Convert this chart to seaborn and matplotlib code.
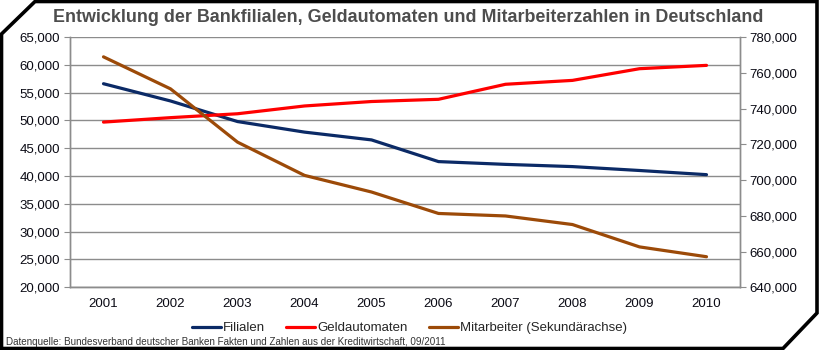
import pandas as pd
import matplotlib
matplotlib.use("Agg")
import matplotlib.pyplot as plt
from matplotlib.patches import Polygon
from matplotlib.ticker import FuncFormatter, FixedLocator
import seaborn as sns

# data
years = ["2001", "2002", "2003", "2004", "2005", "2006", "2007", "2008", "2009", "2010"]
filialen = [56600, 53500, 49800, 47900, 46500, 42600, 42100, 41700, 41000, 40250]
geldautomaten = [49700, 50500, 51200, 52600, 53400, 53800, 56500, 57200, 59300, 59900]
mitarbeiter = [768900, 751000, 721200, 702600, 693300, 681300, 679900, 675100, 662600, 657100]

df = pd.DataFrame({"pos": range(len(years)), "Filialen": filialen,
                   "Geldautomaten": geldautomaten, "Mitarbeiter": mitarbeiter})

sns.set_style("white")
plt.rcParams['font.family'] = ['Liberation Sans', 'DejaVu Sans']

fig = plt.figure(figsize=(8.19, 3.5), dpi=100)
fig.patch.set_facecolor("white")
ax = fig.add_axes([70 / 819, 1 - 287.3 / 350, 670 / 819, 250.3 / 350])
ax2 = ax.twinx()

navy, red, brown = "#0b2a66", "#ff0000", "#9c4a08"
grid_col = "#8c8c8c"

sns.lineplot(data=df, x="pos", y="Filialen", ax=ax, color=navy, linewidth=2.3, label="Filialen", legend=False)
sns.lineplot(data=df, x="pos", y="Geldautomaten", ax=ax, color=red, linewidth=2.3, label="Geldautomaten", legend=False)
sns.lineplot(data=df, x="pos", y="Mitarbeiter", ax=ax2, color=brown, linewidth=2.3,
             label="Mitarbeiter (Sekundärachse)", legend=False)

ax.set_xlim(-0.5, len(years) - 0.5)
ax.set_ylim(20000, 65000)
ax2.set_ylim(640000, 780000)
ax.set_yticks(range(20000, 65001, 5000))
ax2.set_yticks(range(640000, 780001, 20000))
fmt = FuncFormatter(lambda v, p: f"{int(v):,}")
ax.yaxis.set_major_formatter(fmt)
ax2.yaxis.set_major_formatter(fmt)

# ticks between categories, labels at centres
ax.xaxis.set_major_locator(FixedLocator([i - 0.5 for i in range(len(years) + 1)]))
ax.xaxis.set_minor_locator(FixedLocator(range(len(years))))
ax.set_xticklabels([""] * (len(years) + 1))
ax.set_xticklabels(years, minor=True)
ax.tick_params(axis="x", which="major", length=4, color=grid_col, direction="out")
ax.tick_params(axis="x", which="minor", length=0, pad=8, labelsize=9.5, labelcolor="#0a0a14")
ax.tick_params(axis="y", length=4, color=grid_col, direction="out", labelsize=9.5, pad=3, labelcolor="#0a0a14")
ax2.tick_params(axis="y", length=4, color=grid_col, direction="out", labelsize=9.5, pad=3, labelcolor="#0a0a14")

ax.yaxis.grid(True, color=grid_col, linewidth=1)
ax.xaxis.grid(False)
ax.set_axisbelow(True)
for a in (ax, ax2):
    a.set_xlabel("")
    a.set_ylabel("")
    a.set_facecolor("none")
    a.spines["top"].set_visible(False)
    for s in ("left", "right", "bottom"):
        a.spines[s].set_color(grid_col)
        a.spines[s].set_linewidth(1)

fig.text(408 / 819, 1 - 17 / 350, "Entwicklung der Bankfilialen, Geldautomaten und Mitarbeiterzahlen in Deutschland",
         ha="center", va="center", fontsize=12.9, fontweight="bold", color="#4d4d4d")

h1, l1 = ax.get_legend_handles_labels()
h2, l2 = ax2.get_legend_handles_labels()
fig.legend(h1 + h2, l1 + l2, loc="center", bbox_to_anchor=(0.5, 1 - 328 / 350), ncol=3,
           frameon=False, fontsize=9.5, handlelength=2.2, handletextpad=0.15, columnspacing=1.6)

fig.text(6 / 819, 1 - 342 / 350,
         "Datenquelle: Bundesverband deutscher Banken Fakten und Zahlen aus der Kreditwirtschaft, 09/2011",
         ha="left", va="center", fontsize=7.15, color="#333333")

# bevelled black frame
W, H = 819, 350
pts = [(1.5, H - 34), (35, H - 1.5), (W - 2, H - 1.5), (W - 2, H - 313), (783, 1.5), (1.5, 1.5)]
frame = Polygon([(x / W, y / H) for x, y in pts], closed=True, fill=False, edgecolor="black",
                linewidth=2.6, transform=fig.transFigure, joinstyle="miter")
fig.patches.append(frame)

fig.savefig("out.png", dpi=100)
